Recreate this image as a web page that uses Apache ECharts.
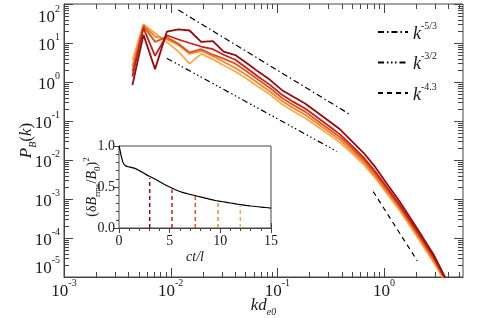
<!DOCTYPE html>
<html><head><meta charset="utf-8">
<script src="https://cdn.jsdelivr.net/npm/echarts@6/dist/echarts.min.js"></script>
<style>html,body{margin:0;padding:0;background:#fff}#c{width:477px;height:318px}</style>
</head><body><div id="c"></div>
<script>
// ---- data ----
const kValues = [0.00438, 0.00556, 0.00714, 0.00920, 0.01183, 0.01503, 0.01932, 0.02489, 0.03133, 0.04036,
  0.05188, 0.06668, 0.0859, 0.1107, 0.1413, 0.182, 0.234, 0.302, 0.389, 0.501, 0.646, 0.832, 1.072, 1.380,
  1.778, 2.291, 2.951, 3.80];
const spec1 = [0.83, 16.2, 2.14, 19.5, 22.4, 20.9, 10.7, 11.2, 6.03, 4.90, 3.02, 1.82, 1.12, 0.617, 0.417,
  0.282, 0.170, 0.102, 0.0603, 0.0302, 0.0151, 0.00646, 0.00240, 0.000912, 0.000316, 0.000107, 3.55e-5, 9.0e-6];
const spec2 = [1.38, 24.0, 4.68, 15.8, 12.3, 10.0, 8.13, 6.92, 5.01, 3.72, 2.24, 1.35, 0.832, 0.468, 0.309,
  0.209, 0.126, 0.0759, 0.0447, 0.0229, 0.0115, 0.00501, 0.00195, 0.000759, 0.000269, 9.33e-5, 3.09e-5, 8.5e-6];
const spec3 = [1.86, 27.5, 10.7, 14.1, 9.55, 5.75, 6.92, 5.01, 3.98, 2.95, 1.86, 1.12, 0.692, 0.389, 0.257,
  0.174, 0.105, 0.0631, 0.0380, 0.0200, 0.0100, 0.00437, 0.00170, 0.000676, 0.000240, 8.32e-5, 2.82e-5, 8.0e-6];
const spec4 = [2.45, 28.8, 14.5, 12.6, 8.91, 5.25, 6.31, 4.57, 3.31, 2.29, 1.48, 0.912, 0.562, 0.324, 0.214,
  0.145, 0.0891, 0.0537, 0.0324, 0.0170, 0.00871, 0.00380, 0.00151, 0.000603, 0.000214, 7.41e-5, 2.51e-5, 7.5e-6];
const spec5 = [3.63, 30.2, 17.8, 10.5, 6.03, 2.95, 5.25, 3.80, 2.69, 1.86, 1.20, 0.741, 0.468, 0.269, 0.178,
  0.120, 0.0741, 0.0457, 0.0275, 0.0148, 0.00759, 0.00339, 0.00135, 0.000537, 0.000191, 6.61e-5, 2.24e-5, 7.0e-6];
const spectra = [spec5, spec4, spec3, spec2, spec1];
const specColors = ['#fdaa4a', '#f5862e', '#e2521f', '#c4201c', '#950a0a'];

const ref53K = [0.0118, 0.484], ref53P = [70.2, 0.145];
const ref32K = [0.0092, 0.364], ref32P = [4.05, 0.0165];
const ref43K = [0.792, 2.05],  ref43P = [0.00155, 2.6e-5];

const insetT = [0, 0.1, 0.2, 0.3, 0.4, 0.5, 0.7, 1.0, 1.5, 2.0, 2.5, 3.0, 3.5, 4.0, 4.5, 5.0, 5.5, 6.0, 6.5, 7.0,
  7.5, 8.0, 8.5, 9.0, 9.5, 10, 10.5, 11, 11.5, 12, 12.5, 13, 13.5, 14, 14.5, 15];
const insetV = [1.0, 0.95, 0.89, 0.84, 0.80, 0.775, 0.755, 0.745, 0.73, 0.70, 0.665, 0.63, 0.60, 0.565, 0.53,
  0.50, 0.47, 0.445, 0.425, 0.41, 0.395, 0.38, 0.365, 0.35, 0.335, 0.325, 0.315, 0.305, 0.295, 0.285, 0.275,
  0.268, 0.262, 0.255, 0.25, 0.243];
const markT = [3.03, 5.23, 7.53, 9.77, 11.97];
const markV = [0.61, 0.47, 0.40, 0.33, 0.28];
const markColors = ['#950a0a', '#c4201c', '#e2521f', '#f5862e', '#fdaa4a'];

const xMin = 1e-3, xMax = 5.5, yMin = 1e-5, yMax = 100;
const xMajorTicks = [1e-3, 1e-2, 1e-1, 1];
const yMajorTicks = [1e-5, 1e-4, 1e-3, 1e-2, 1e-1, 1, 10, 100];
const minorMult = [2, 3, 4, 5, 6, 7, 8, 9];

// ---- build tick items ----
const tickData = [];
xMajorTicks.forEach(v => {
  tickData.push([v, yMin, 1]);
  minorMult.forEach(m => { const t = v * m; if (t < xMax) tickData.push([t, yMin, 0]); });
});
yMajorTicks.forEach(v => {
  tickData.push([xMin, v, 3]);
  if (v < yMax) minorMult.forEach(m => tickData.push([xMin, v * m, 2]));
});

const FONT = 'Liberation Serif';
const TXT = '#1a1a1a';
const AX = '#444';

function powLabel(v) {
  const l = Math.log10(v), e = Math.round(l);
  if (Math.abs(l - e) > 1e-6) return '';
  return '{b|10}{s|' + e + '}';
}
const powRich = {
  b: { fontSize: 17, fontFamily: FONT, color: TXT, lineHeight: 22, verticalAlign: 'bottom' },
  s: { fontSize: 10, fontFamily: FONT, color: TXT, lineHeight: 11, verticalAlign: 'top' }
};

const chart = echarts.init(document.getElementById('c'), null, { renderer: 'canvas' });

const series = [];
spectra.forEach((s, i) => {
  series.push({
    type: 'line', xAxisIndex: 0, yAxisIndex: 0, name: 'spec' + i,
    data: kValues.map((k, j) => [k, s[j]]),
    showSymbol: false, symbol: 'none', clip: true,
    lineStyle: { color: specColors[i], width: 1.8 }, itemStyle: { color: specColors[i] }, z: 3
  });
});
const refLine = (name, K, P, dash) => ({
  type: 'line', xAxisIndex: 0, yAxisIndex: 0, name: name,
  data: K.map((k, j) => [k, P[j]]), showSymbol: false, symbol: 'none', symbolSize: 0,
  lineStyle: { color: '#000', width: 1.2, type: dash }, itemStyle: { color: '#000' }, z: 3
});
series.push(refLine('k53', ref53K, ref53P, [6, 3, 1.5, 3]));
series.push(refLine('k32', ref32K, ref32P, [6, 3, 1.5, 2.5, 1.5, 2.5, 1.5, 3]));
series.push(refLine('k43', ref43K, ref43P, [5, 4]));

series.push({
  type: 'custom', xAxisIndex: 0, yAxisIndex: 0, silent: true, z: 6, clip: false,
  data: tickData, encode: { x: 0, y: 1 },
  renderItem: function (params, api) {
    const kind = api.value(2);
    const st = { stroke: AX, lineWidth: 1 };
    if (kind < 2) {
      const v = api.value(0);
      const p1 = api.coord([v, yMin]), p2 = api.coord([v, yMax]);
      const len = kind === 1 ? 9 : 5;
      const x = Math.round(p1[0]) + 0.5;
      return { type: 'group', children: [
        { type: 'line', shape: { x1: x, y1: p1[1], x2: x, y2: p1[1] - len }, style: st },
        { type: 'line', shape: { x1: x, y1: p2[1], x2: x, y2: p2[1] + len }, style: st }
      ] };
    } else {
      const v = api.value(1);
      const p1 = api.coord([xMin, v]), p2 = api.coord([xMax, v]);
      const len = kind === 3 ? 9 : 5;
      const y = Math.round(p1[1]) + 0.5;
      return { type: 'group', children: [
        { type: 'line', shape: { x1: p1[0], y1: y, x2: p1[0] + len, y2: y }, style: st },
        { type: 'line', shape: { x1: p2[0], y1: y, x2: p2[0] - len, y2: y }, style: st }
      ] };
    }
  }
});

// inset
series.push({
  type: 'line', xAxisIndex: 1, yAxisIndex: 1, name: 'energy',
  data: insetT.map((t, i) => [t, insetV[i]]), showSymbol: false, symbol: 'none', smooth: 0.3,
  lineStyle: { color: '#000', width: 1.2 }, z: 4
});
markT.forEach((t, i) => {
  series.push({
    type: 'line', xAxisIndex: 1, yAxisIndex: 1, name: 'mark' + i,
    data: [[t, 0], [t, markV[i]]], showSymbol: false, symbol: 'none',
    lineStyle: { color: markColors[i], width: 1.5, type: [4, 3] }, z: 4
  });
});

const insetAxisCommon = {
  gridIndex: 1, type: 'value',
  axisLine: { show: true, lineStyle: { color: AX, width: 1 } },
  axisTick: { show: true, inside: true, length: 5, lineStyle: { color: AX } },
  minorTick: { show: true, splitNumber: 5, length: 3, lineStyle: { color: AX } },
  splitLine: { show: false }, minorSplitLine: { show: false }
};

const option = {
  backgroundColor: '#fff',
  animation: false,
  grid: [
    { left: 64, top: 4, width: 399, height: 273, show: true, borderColor: AX, borderWidth: 1,
      backgroundColor: 'transparent', containLabel: false, outerBoundsMode: 'none' },
    { left: 119, top: 146, width: 152, height: 82, show: true, borderColor: AX, borderWidth: 1,
      backgroundColor: '#fff', containLabel: false, outerBoundsMode: 'none', z: 2 }
  ],
  legend: {
    data: ['k53', 'k32', 'k43'], orient: 'vertical', left: 377, top: 21, padding: 0,
    itemWidth: 30, itemHeight: 12, itemGap: 8.5, selectedMode: false,
    itemStyle: { opacity: 0, borderWidth: 0 },
    formatter: n => ({ k53: '{k|k}{s|-5/3}', k32: '{k|k}{s|-3/2}', k43: '{k|k}{s|-4.3}' }[n]),
    textStyle: { fontFamily: FONT, color: TXT, rich: {
      k: { fontSize: 18, fontStyle: 'italic', fontFamily: FONT, color: TXT, lineHeight: 22, verticalAlign: 'bottom' },
      s: { fontSize: 10, fontFamily: FONT, color: TXT, lineHeight: 11, verticalAlign: 'top' }
    } }
  },
  xAxis: [
    { gridIndex: 0, type: 'log', logBase: 10, min: xMin, max: xMax,
      axisLine: { show: true, lineStyle: { color: AX } }, axisTick: { show: false }, splitLine: { show: false },
      axisLabel: { formatter: powLabel, rich: powRich, margin: 1 },
      name: '{i|kd}{sub|e0}', nameLocation: 'middle', nameGap: 20, nameMoveOverlap: false,
      nameTextStyle: { fontFamily: FONT, color: TXT, rich: {
        i: { fontSize: 17, fontStyle: 'italic', fontFamily: FONT, color: TXT, lineHeight: 20, verticalAlign: 'top' },
        sub: { fontSize: 10, fontStyle: 'italic', fontFamily: FONT, color: TXT, lineHeight: 10, verticalAlign: 'bottom' }
      } } },
    Object.assign({}, insetAxisCommon, { min: 0, max: 15, interval: 5, position: 'bottom',
      axisLabel: { fontFamily: FONT, fontSize: 14, color: TXT, margin: 6 },
      name: 'ct/l', nameLocation: 'middle', nameGap: 22, nameMoveOverlap: false,
      nameTextStyle: { fontFamily: FONT, fontSize: 14, fontStyle: 'italic', color: TXT } }),
    Object.assign({}, insetAxisCommon, { min: 0, max: 15, interval: 5, position: 'top', axisLabel: { show: false } })
  ],
  yAxis: [
    { gridIndex: 0, type: 'log', logBase: 10, min: yMin, max: yMax,
      axisLine: { show: true, lineStyle: { color: AX } }, axisTick: { show: false }, splitLine: { show: false },
      axisLabel: { formatter: powLabel, rich: powRich, margin: 4,
        verticalAlignMaxLabel: 'top', verticalAlignMinLabel: 'bottom' },
      name: '{i|P}{sub|B}{n|(}{i|k}{n|)}', nameLocation: 'middle', nameGap: 26, nameRotate: 90, nameMoveOverlap: false,
      nameTextStyle: { fontFamily: FONT, color: TXT, rich: {
        i: { fontSize: 17, fontStyle: 'italic', fontFamily: FONT, color: TXT, lineHeight: 20, verticalAlign: 'top' },
        n: { fontSize: 17, fontFamily: FONT, color: TXT, lineHeight: 20, verticalAlign: 'top' },
        sub: { fontSize: 10, fontStyle: 'italic', fontFamily: FONT, color: TXT, lineHeight: 10, verticalAlign: 'bottom' }
      } } },
    Object.assign({}, insetAxisCommon, { min: 0, max: 1, interval: 0.5, position: 'left',
      axisLabel: { fontFamily: FONT, fontSize: 14, color: TXT, margin: 4, formatter: v => v.toFixed(1) },
      name: '{n|(δ}{i|B}{sub|rms}{n|/}{i|B}{sub|0}{n|)}{sup|2}', nameLocation: 'middle', nameGap: 17, nameRotate: 90,
      nameMoveOverlap: false,
      nameTextStyle: { fontFamily: FONT, color: TXT, rich: {
        i: { fontSize: 14, fontStyle: 'italic', fontFamily: FONT, color: TXT, lineHeight: 20, verticalAlign: 'middle' },
        n: { fontSize: 14, fontFamily: FONT, color: TXT, lineHeight: 20, verticalAlign: 'middle' },
        sub: { fontSize: 9, fontFamily: FONT, color: TXT, lineHeight: 9, verticalAlign: 'bottom' },
        sup: { fontSize: 9, fontFamily: FONT, color: TXT, lineHeight: 9, verticalAlign: 'top' }
      } } }),
    Object.assign({}, insetAxisCommon, { min: 0, max: 1, interval: 0.5, position: 'right', axisLabel: { show: false } })
  ],
  series: series
};
chart.setOption(option);
</script>
</body></html>
